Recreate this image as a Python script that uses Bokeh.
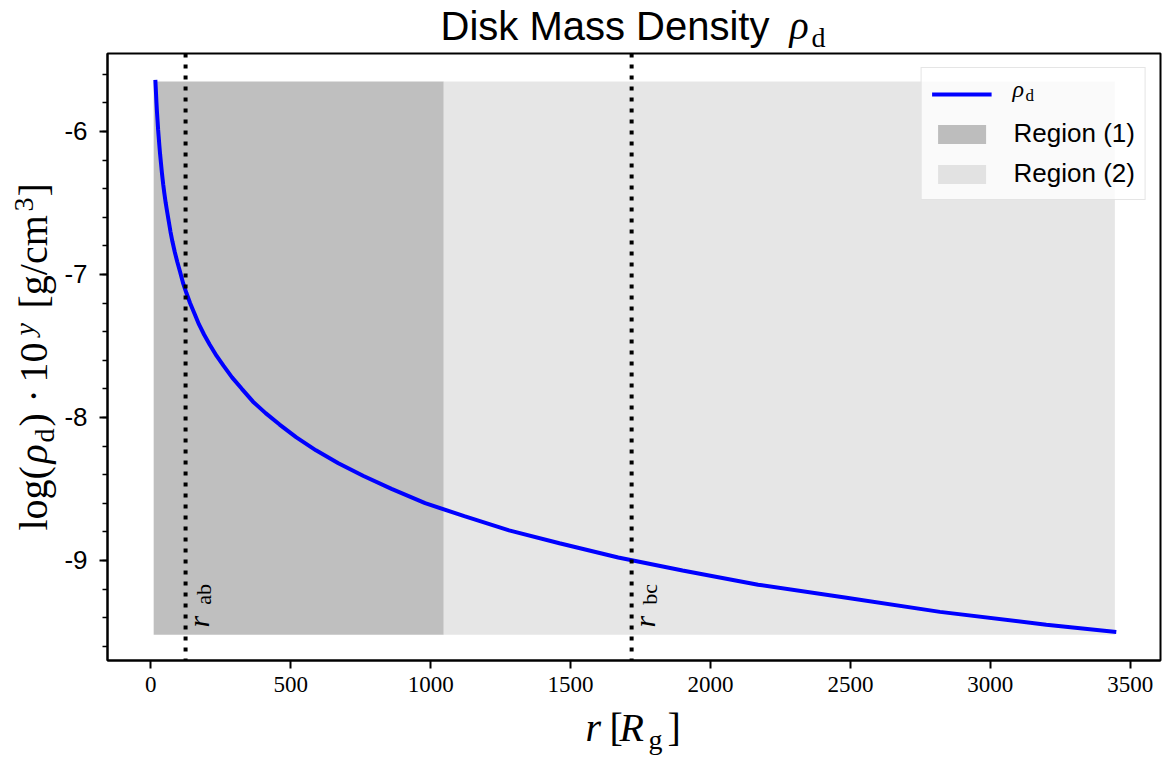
from bokeh.plotting import figure
from bokeh.models import (Range1d, Span, Label, Legend, LegendItem, SingleIntervalTicker,
                          Column)
from bokeh.embed import file_html
from bokeh.resources import INLINE

# ---- data ----
r_vals = [16, 17, 18, 19, 20, 22, 24, 26, 28, 30, 33, 36, 40, 44, 48, 53, 58, 64, 70, 77,
          85, 94, 104, 115, 127, 140, 155, 172, 190, 210, 235, 260, 290, 325, 365, 410,
          460, 520, 590, 670, 760, 860, 980, 1120, 1280, 1460, 1670, 1900, 2170, 2480,
          2820, 3200, 3450]
log_rho = [-5.64, -5.68, -5.72, -5.76, -5.80, -5.87, -5.93, -5.99, -6.04, -6.09, -6.16,
           -6.22, -6.30, -6.37, -6.43, -6.50, -6.56, -6.63, -6.70, -6.77, -6.84, -6.91,
           -6.98, -7.06, -7.13, -7.20, -7.27, -7.35, -7.42, -7.49, -7.57, -7.64, -7.72,
           -7.80, -7.89, -7.97, -8.05, -8.14, -8.23, -8.32, -8.41, -8.50, -8.60, -8.69,
           -8.79, -8.88, -8.98, -9.07, -9.17, -9.26, -9.36, -9.45, -9.50]
region_names = ["Region (1)", "Region (2)"]
region_left = [10, 1046]
region_right = [1046, 3445]
region_bottom = [-9.52, -9.52]
region_top = [-5.65, -5.65]
r_ab = 124
r_bc = 1718
y_ticks = [-9, -8, -7, -6]
y_tick_labels = ["-9", "-8", "-7", "-6"]

SERIF = "Liberation Serif"
SANS = "Liberation Sans"
W, H = 1165, 758
BASE = 0.37  # baseline correction (fraction of font size)

p = figure(width=W, height=H, output_backend="svg", toolbar_location=None,
           title=None,
           x_range=Range1d(-155, 3608), y_range=Range1d(-9.70, -5.455),
           min_border_left=107, min_border_right=5, min_border_top=53,
           min_border_bottom=98)
p.background_fill_color = "white"
p.border_fill_color = "white"
p.outline_line_color = "black"
p.outline_line_width = 2
p.grid.visible = False

# regions
q1 = p.quad(left=[region_left[0]], right=[region_right[0]], bottom=[region_bottom[0]],
            top=[region_top[0]], fill_color="gray", fill_alpha=0.5, line_color=None)
q2 = p.quad(left=[region_left[1]], right=[region_right[1]], bottom=[region_bottom[1]],
            top=[region_top[1]], fill_color="gray", fill_alpha=0.2, line_color=None)

for loc in (r_ab, r_bc):
    p.add_layout(Span(location=loc, dimension="height", line_color="black",
                      line_width=4, line_dash="4 7"))

ln = p.line(r_vals, log_rho, line_color="blue", line_width=4)

# axes
xa = p.xaxis[0]
ya = p.yaxis[0]
xa.ticker = SingleIntervalTicker(interval=500, num_minor_ticks=0)
ya.ticker = SingleIntervalTicker(interval=1, num_minor_ticks=5)
ya.major_label_overrides = {t: l for t, l in zip(y_ticks, y_tick_labels)}
for ax in (xa, ya):
    ax.axis_line_width = 2
    ax.axis_line_color = "black"
    ax.major_tick_line_width = 2
    ax.major_tick_out = 8
    ax.major_tick_in = 0
    ax.minor_tick_in = 0
ya.minor_tick_out = 5
ya.minor_tick_line_width = 1.5
xa.major_label_text_font = SERIF
xa.major_label_text_font_size = "23px"
xa.major_label_standoff = 8
ya.major_label_text_font = SANS
ya.major_label_text_font_size = "26px"
ya.major_label_standoff = 12
xa.major_label_text_color = "black"
ya.major_label_text_color = "black"

# legend
legend = Legend(items=[LegendItem(label="\u00a0", renderers=[ln]),
                       LegendItem(label=region_names[0], renderers=[q1]),
                       LegendItem(label=region_names[1], renderers=[q2])],
                location="top_right", margin=14, padding=10, spacing=9,
                glyph_width=60, glyph_height=24, label_height=24, label_standoff=22,
                label_text_font=SANS, label_text_font_size="26px",
                label_text_color="black",
                border_line_color="#cccccc", border_line_width=1.5,
                background_fill_color="white", background_fill_alpha=0.8)
p.add_layout(legend)

# labels next to the vertical lines (inside the frame)
for loc, sub in ((r_ab, "ab"), (r_bc, "bc")):
    p.add_layout(Label(x=loc, y=-9.47, x_offset=13, text="r", text_font=SERIF,
                       text_font_style="italic", text_font_size="30px", angle=90,
                       angle_units="deg", text_align="left", text_baseline="alphabetic",
                       text_color="black"))
    p.add_layout(Label(x=loc, y=-9.31, x_offset=18, text=sub, text_font=SERIF,
                       text_font_size="22px", angle=90, angle_units="deg",
                       text_align="left", text_baseline="alphabetic",
                       text_color="black"))

# ---- transparent overlay figure for texts outside the plot frame ----
ov = figure(width=W, height=H, output_backend="svg", toolbar_location=None,
            x_range=Range1d(0, W), y_range=Range1d(H, 0),
            min_border=0, min_border_left=0, min_border_right=0, min_border_top=0,
            min_border_bottom=0, x_axis_type=None, y_axis_type=None,
            margin=(-H, 0, 0, 0))
ov.title = None
ov.outline_line_color = None
ov.background_fill_color = None
ov.border_fill_color = None
for fig in (p, ov):
    try:
        fig.frame_align = False
    except Exception:
        pass


def lab(text, X, Y, size, font=SERIF, style="normal", angle=0):
    if angle == 0:
        Y = Y - BASE * size
    else:
        X = X - BASE * size
    ov.add_layout(Label(x=X, y=Y, text=text, text_font=font, text_font_size=f"{size}px",
                        text_font_style=style, angle=angle, angle_units="deg",
                        text_align="left", text_baseline="alphabetic",
                        text_color="black"))


# title
lab("Disk Mass Density", 440, 40, 40, font=SANS)
lab("\u03c1", 789, 40, 40, style="italic")
lab("d", 811, 47, 28)

# x label
lab("r", 585, 742, 40, style="italic")
lab("[", 609, 742, 40)
lab("R", 619, 742, 40, style="italic")
lab("g", 648, 749, 28)
lab("]", 667, 742, 40)

# y label (rotated)
lab("log(", 48, 530, 40, angle=90)
lab("\u03c1", 48, 463, 40, style="italic", angle=90)
lab("d", 54, 442, 28, angle=90)
lab(")", 48, 426, 40, angle=90)
lab("\u00b7", 48, 402, 40, angle=90)
lab("10", 48, 382, 40, angle=90)
lab("y", 34, 335, 28, style="italic", angle=90)
lab("[g/cm", 48, 308, 40, angle=90)
lab("3", 34, 211, 28, angle=90)
lab("]", 48, 196, 40, angle=90)

# legend rho_d
lab("\u03c1", 1012, 97, 24, style="italic")
lab("d", 1025, 101, 17)

layout = Column(children=[p, ov])

open("out.html", "w").write(file_html(layout, INLINE))
